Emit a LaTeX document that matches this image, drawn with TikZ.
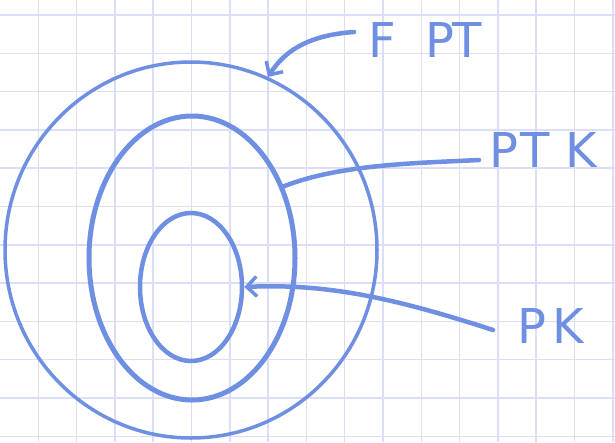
\documentclass[tikz,border=0pt]{standalone}
\usepackage{fontspec}
\setmainfont{DejaVu Sans}
\usetikzlibrary{shapes.geometric,arrows.meta}
\definecolor{ink}{HTML}{6F8FE3}
\definecolor{gridc}{HTML}{DCDDF6}
\tikzset{
  ring/.style={ellipse, draw=ink, inner sep=0pt},
  lbl/.style={text=ink, font=\fontsize{48}{52}\selectfont, inner sep=0pt, anchor=west},
  conn/.style={draw=ink, line width=4.5pt, line cap=round},
  tip/.style={-{Straight Barb[length=10pt,width=20pt,line width=3.5pt]}}
}
\begin{document}
\begin{tikzpicture}[x=1pt,y=-1pt]
\useasboundingbox (0,0) rectangle (615,442);
\fill[white] (0,0) rectangle (615,442);
\foreach \i in {1,...,16} \draw[gridc, line width=1.5pt] (\i*38.3,0) -- (\i*38.3,442);
\foreach \j in {0,...,11} \draw[gridc, line width=1.5pt] (0,15+\j*38.3) -- (615,15+\j*38.3);
\node[ring, line width=3.5pt, minimum width=372pt, minimum height=376pt] (outer) at (191,250) {};
\node[ring, line width=5pt, minimum width=206pt, minimum height=284pt] (middle) at (192,258) {};
\node[ring, line width=4.5pt, minimum width=102pt, minimum height=148pt] (inner) at (191,287) {};
\node[lbl] (fpt) at (368,40) {F\hspace{30pt}P\hspace{-2pt}T};
\node[lbl] (ptk) at (489,150) {P\hspace{2pt}T\hspace{16pt}K};
\node[lbl] (pk) at (517,326) {P\hspace{6pt}K};
\draw[conn, tip] ([xshift=-14pt,yshift=8pt]fpt.west) .. controls (310,35) and (285,50) .. (outer.66);
\draw[conn] ([xshift=-10pt,yshift=-10pt]ptk.west) .. controls (420,163) and (340,164) .. (middle.38);
\draw[conn, tip] ([xshift=-24pt,yshift=-4pt]pk.west) .. controls (400,300) and (330,283) .. (inner.0);
\end{tikzpicture}
\end{document}
